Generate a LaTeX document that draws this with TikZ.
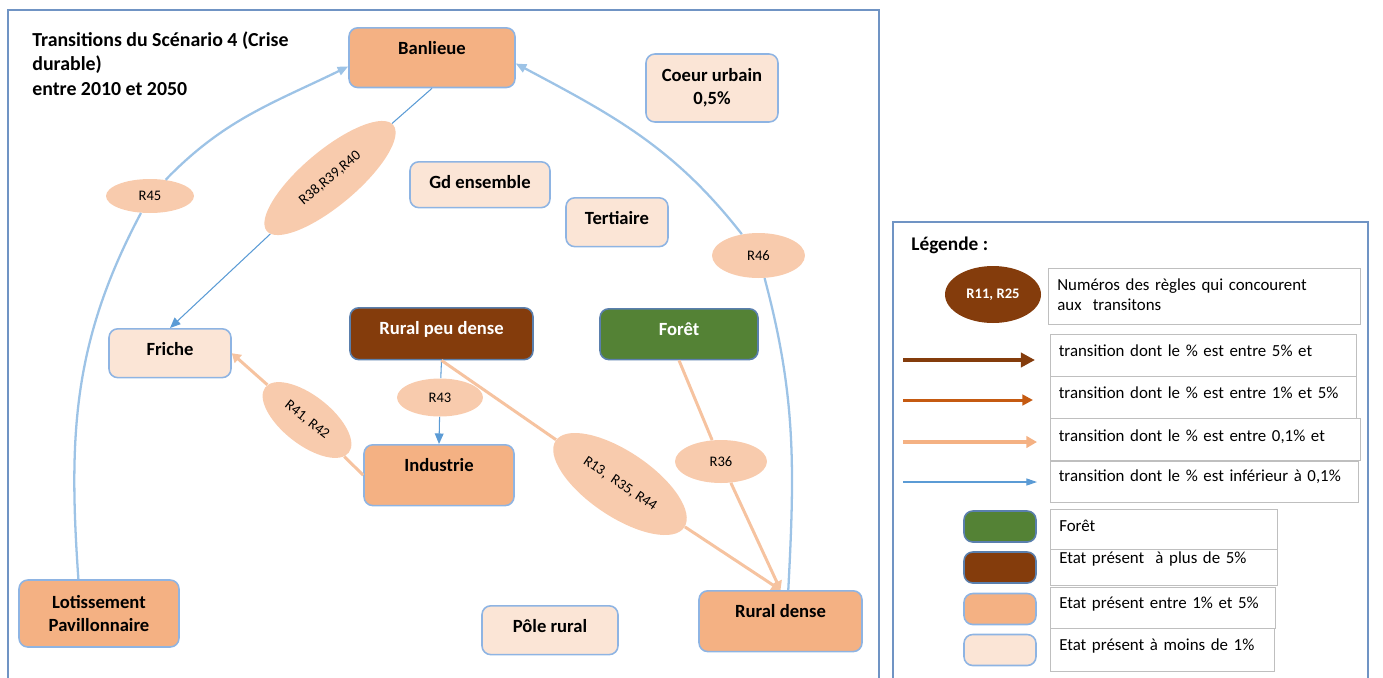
\documentclass[tikz,border=0pt]{standalone}
\usepackage{fontspec}
\setmainfont{Carlito}
\usetikzlibrary{arrows.meta, shapes.geometric, positioning}
\definecolor{orangefort}{HTML}{F4B183}
\definecolor{orangepale}{HTML}{FBE5D6}
\definecolor{saumon}{HTML}{F8CBAD}
\definecolor{saumonfonce}{HTML}{F6C3A0}
\definecolor{orangemoy}{HTML}{C55A11}
\definecolor{brun}{HTML}{843C0C}
\definecolor{vert}{HTML}{548235}
\definecolor{bordbleu}{HTML}{8EB4E3}
\definecolor{bleufonce}{HTML}{5A7FAD}
\definecolor{bleuligne}{HTML}{5B9BD5}
\definecolor{bleuclair}{HTML}{9DC3E6}
\definecolor{cadre}{HTML}{7094C4}
\definecolor{gris}{HTML}{BFBFBF}

\tikzset{
  etat/.style={draw=bordbleu, line width=0.9pt, rounded corners=5pt, font=\bfseries\fontsize{10.6}{13}\selectfont, align=center, inner sep=0pt},
  haut/.style={anchor=north, text height=15pt, text depth=#1},
  regle/.style={ellipse, fill=saumon, inner sep=0pt, font=\fontsize{8.3}{9}\selectfont},
  liencourbe/.style={draw=bleuclair, line width=1.3pt},
  lienbleu/.style={draw=bleuligne, line width=0.6pt},
  lienorange/.style={draw=saumonfonce, line width=1.7pt},
  legbox/.style={draw=gris, line width=0.6pt, anchor=north west, inner xsep=5pt, inner ysep=0pt, text height=12.5pt, align=left, font=\fontsize{9.6}{11.4}\selectfont},
}

\begin{document}
\begin{tikzpicture}[x=0.02cm, y=-0.02cm]
  \useasboundingbox (0,0) rectangle (1383,677);
  \draw[cadre, line width=0.7pt] (8,10) rectangle (879,700);
  \draw[cadre, line width=0.7pt] (893,222) rectangle (1368,700);

  \node[anchor=north west, align=left, inner sep=0pt, font=\bfseries\fontsize{11.3}{14}\selectfont] (titre) at (32,31)
    {Transitions du Scénario 4 (Crise\\durable)\\entre 2010 et 2050};

  % etats
  \node[etat, haut=19pt, fill=orangefort, minimum width=3.32cm] (ban) at (432,27) {Banlieue};
  \node[etat, fill=orangepale, minimum width=2.64cm, minimum height=1.36cm] (coeur) at (712,88) {Coeur urbain\\0,5\%};
  \node[etat, haut=11.1pt, fill=orangepale, minimum width=2.8cm] (gd) at (480,161) {Gd ensemble};
  \node[etat, haut=12.8pt, fill=orangepale, minimum width=2.04cm] (tert) at (617,197) {Tertiaire};
  \node[etat, haut=12.8pt, fill=orangepale, minimum width=2.44cm] (friche) at (170,328) {Friche};
  \node[etat, haut=14.5pt, fill=brun, draw=bleufonce, text=white, minimum width=3.66cm] (rpd) at (441.5,307) {Rural peu dense};
  \node[etat, haut=13.9pt, fill=vert, draw=bleufonce, text=white, minimum width=3.16cm] (foret) at (679,308) {Forêt};
  \node[etat, haut=19.6pt, fill=orangefort, minimum width=3cm] (ind) at (439,444) {Industrie};
  \node[etat, fill=orangefort, minimum width=3.2cm, minimum height=1.34cm] (lot) at (99,613.5) {Lotissement\\Pavillonnaire};
  \node[etat, haut=12.8pt, fill=orangepale, minimum width=2.72cm] (pole) at (550,605) {Pôle rural};
  \node[etat, haut=19.6pt, fill=orangefort, minimum width=3.26cm] (rd) at (780.5,590) {Rural dense};

  % regles
  \node[regle, minimum width=1.76cm, minimum height=0.68cm] (r45) at (150,196) {R45};
  \node[regle, rotate=40, minimum width=3.3cm, minimum height=1.1cm] (r38) at (330,178) {R38,R39,R40};
  \node[regle, rotate=-38, minimum width=2.12cm, minimum height=0.98cm] (r41) at (307,420) {R41, R42};
  \node[regle, minimum width=1.72cm, minimum height=0.76cm] (r43) at (440,397.5) {R43};
  \node[regle, rotate=-34, minimum width=3.1cm, minimum height=1.3cm] (r13) at (620,484) {R13,\ \ R35, R44};
  \node[regle, minimum width=1.84cm, minimum height=0.86cm] (r36) at (721,461.5) {R36};
  \node[regle, minimum width=1.86cm, minimum height=0.9cm] (r46) at (758.5,255.5) {R46};

  % transitions
  \draw[liencourbe] (lot.121) to[out=94, in=-118] (r45);
  \draw[liencourbe, -{Triangle[length=6pt, width=5pt]}] (r45) to[out=46, in=206] (ban.186);
  \draw[liencourbe] (rd.76) to[out=87, in=-75] (r46);
  \draw[liencourbe, -{Triangle[length=6pt, width=5pt]}] (r46) to[out=128, in=-28] (ban.-4);
  \draw[lienbleu] (ban.south) -- (r38);
  \draw[lienbleu, -{Triangle[length=6pt, width=5pt]}] (r38) -- (friche.north);
  \draw[lienbleu] (rpd.south) -- (r43);
  \draw[lienbleu, -{Triangle[length=6pt, width=5pt]}] (r43) -- (ind.north);
  \draw[lienorange] (ind.west) -- (r41);
  \draw[lienorange, -{Triangle[length=5pt, width=6pt]}] (r41) -- (friche.east);
  \draw[lienorange] (rpd.south) -- (r13);
  \draw[lienorange, -{Triangle[length=5pt, width=6pt]}] (r13) -- (rd.north);
  \draw[lienorange] (foret.south) -- (r36);
  \draw[lienorange, -{Triangle[length=5pt, width=6pt]}] (r36) -- (rd.north);

  % legende
  \node[anchor=west, inner sep=0pt, font=\bfseries\fontsize{11}{13}\selectfont] (legende) at (911,245) {Légende :};
  \node[regle, fill=brun, text=white, font=\bfseries\fontsize{8.3}{9}\selectfont, minimum width=1.92cm, minimum height=1.14cm] (leg0) at (993,294.5) {R11, R25};
  \node[legbox, text width=167.5pt, text depth=19.3pt] (num) at (1048,268) {Numéros des règles qui concourent\\aux\ \ transitons};
  \node[legbox, text width=164.4pt, text depth=11.3pt] (t1) at (1049.5,334) {transition dont le \% est entre 5\% et};
  \node[legbox, text width=164.4pt, text depth=11.3pt] (t2) at (1049.5,376) {transition dont le \% est entre 1\% et 5\%};
  \node[legbox, text width=166.6pt, text height=13pt, text depth=10.8pt] (t3) at (1049.5,418) {transition dont le \% est entre 0,1\% et};
  \node[legbox, text width=165.5pt, text height=11.5pt, text depth=11.7pt] (t4) at (1049.5,461) {transition dont le \% est inférieur à 0,1\%};
  \node[legbox, text width=119.3pt, text depth=10.2pt] (l1) at (1050,509) {Forêt};
  \node[legbox, text width=119.3pt, text height=8pt, text depth=12.4pt] (l2) at (1050,549) {Etat présent\ \ à plus de 5\%};
  \node[legbox, text width=118.1pt, text height=12pt, text depth=11.2pt] (l3) at (1050,587) {Etat présent entre 1\% et 5\%};
  \node[legbox, text width=117.6pt, text depth=11.9pt] (l4) at (1050,628) {Etat présent à moins de 1\%};

  \node[etat, fill=vert, draw=bleufonce, minimum width=1.44cm, minimum height=0.62cm] (c1) at (1000,526.5) {};
  \node[etat, fill=brun, draw=bleufonce, minimum width=1.44cm, minimum height=0.62cm] (c2) at (1000,567.5) {};
  \node[etat, fill=orangefort, minimum width=1.44cm, minimum height=0.62cm] (c3) at (1000,609) {};
  \node[etat, fill=orangepale, minimum width=1.44cm, minimum height=0.62cm] (c4) at (1000,650) {};

  \coordinate (a1) at (903,360);
  \coordinate (b1) at (1035,360);
  \coordinate (a2) at (903,400);
  \coordinate (b2) at (1033,400);
  \coordinate (a3) at (903,442);
  \coordinate (b3) at (1037,442);
  \coordinate (a4) at (903,482);
  \coordinate (b4) at (1037,482);
  \draw[brun, line width=2.3pt, -{Triangle[length=8pt, width=8pt]}] (a1) -- (b1);
  \draw[orangemoy, line width=1.7pt, -{Triangle[length=6pt, width=6pt]}] (a2) -- (b2);
  \draw[orangefort, line width=2.2pt, -{Triangle[length=6pt, width=6.5pt]}] (a3) -- (b3);
  \draw[bleuligne, line width=0.6pt, -{Triangle[length=6pt, width=4pt]}] (a4) -- (b4);
\end{tikzpicture}
\end{document}
